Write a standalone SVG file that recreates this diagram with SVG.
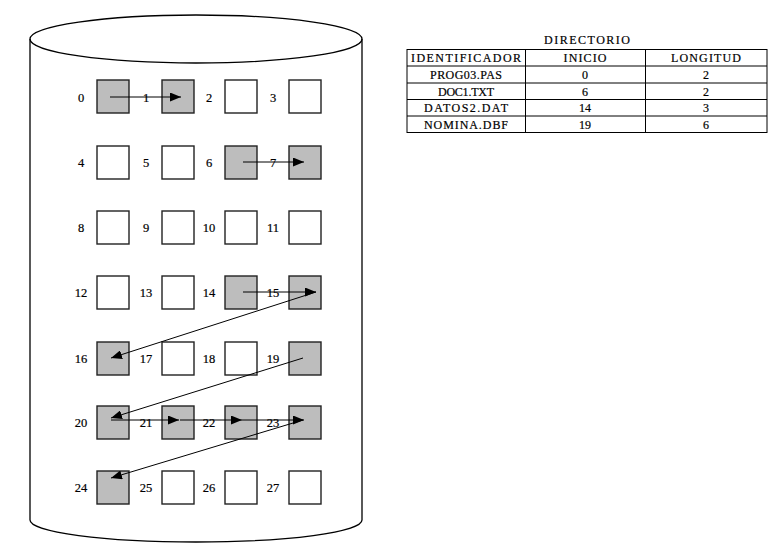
<svg xmlns="http://www.w3.org/2000/svg" width="783" height="553" viewBox="0 0 783 553">
<defs>
<marker id="ah" markerWidth="11" markerHeight="9" refX="11" refY="4.5" orient="auto" markerUnits="userSpaceOnUse">
<path d="M0,0 L11,4.5 L0,9 Z" fill="#000"/>
</marker>
<style>
.cyl{fill:none;stroke:#000;stroke-width:1.3}
.b{fill:#fff;stroke:#222;stroke-width:1.4}
.g{fill:#bdbdbd;stroke:#222;stroke-width:1.4}
.lbl{font-family:"Liberation Serif",serif;font-size:12.5px;fill:#000;text-anchor:middle;stroke:#000;stroke-width:0.2}
.t{font-family:"Liberation Serif",serif;font-size:12px;fill:#000;text-anchor:middle;stroke:#000;stroke-width:0.2}
.c{stroke:#000;stroke-width:1;fill:none;marker-end:url(#ah)}
.tb{fill:none;stroke:#000;stroke-width:1}
</style>
</defs>
<rect width="783" height="553" fill="#fff"/>
<g id="disk">
<ellipse class="cyl" cx="196" cy="39" rx="166" ry="24"/>
<path class="cyl" d="M30,39 L30,520 A166,22 0 0 0 362,520 L362,39"/>
</g>
<g id="blocks">
<g id="b0"><rect class="g" x="97" y="80" width="32" height="33"/><text class="lbl" x="81" y="102">0</text></g>
<g id="b1"><rect class="g" x="162" y="80" width="32" height="33"/><text class="lbl" x="146" y="102">1</text></g>
<g id="b2"><rect class="b" x="225" y="80" width="32" height="33"/><text class="lbl" x="209" y="102">2</text></g>
<g id="b3"><rect class="b" x="289" y="80" width="32" height="33"/><text class="lbl" x="273" y="102">3</text></g>
<g id="b4"><rect class="b" x="97" y="146" width="32" height="33"/><text class="lbl" x="81" y="167">4</text></g>
<g id="b5"><rect class="b" x="162" y="146" width="32" height="33"/><text class="lbl" x="146" y="167">5</text></g>
<g id="b6"><rect class="g" x="225" y="146" width="32" height="33"/><text class="lbl" x="209" y="167">6</text></g>
<g id="b7"><rect class="g" x="289" y="146" width="32" height="33"/><text class="lbl" x="273" y="167">7</text></g>
<g id="b8"><rect class="b" x="97" y="211" width="32" height="33"/><text class="lbl" x="81" y="232">8</text></g>
<g id="b9"><rect class="b" x="162" y="211" width="32" height="33"/><text class="lbl" x="146" y="232">9</text></g>
<g id="b10"><rect class="b" x="225" y="211" width="32" height="33"/><text class="lbl" x="209" y="232">10</text></g>
<g id="b11"><rect class="b" x="289" y="211" width="32" height="33"/><text class="lbl" x="273" y="232">11</text></g>
<g id="b12"><rect class="b" x="97" y="276" width="32" height="33"/><text class="lbl" x="81" y="297">12</text></g>
<g id="b13"><rect class="b" x="162" y="276" width="32" height="33"/><text class="lbl" x="146" y="297">13</text></g>
<g id="b14"><rect class="g" x="225" y="276" width="32" height="33"/><text class="lbl" x="209" y="297">14</text></g>
<g id="b15"><rect class="g" x="289" y="276" width="32" height="33"/><text class="lbl" x="273" y="297">15</text></g>
<g id="b16"><rect class="g" x="97" y="342" width="32" height="33"/><text class="lbl" x="81" y="363">16</text></g>
<g id="b17"><rect class="b" x="162" y="342" width="32" height="33"/><text class="lbl" x="146" y="363">17</text></g>
<g id="b18"><rect class="b" x="225" y="342" width="32" height="33"/><text class="lbl" x="209" y="363">18</text></g>
<g id="b19"><rect class="g" x="289" y="342" width="32" height="33"/><text class="lbl" x="273" y="363">19</text></g>
<g id="b20"><rect class="g" x="97" y="406" width="32" height="33"/><text class="lbl" x="81" y="427">20</text></g>
<g id="b21"><rect class="g" x="162" y="406" width="32" height="33"/><text class="lbl" x="146" y="427">21</text></g>
<g id="b22"><rect class="g" x="225" y="406" width="32" height="33"/><text class="lbl" x="209" y="427">22</text></g>
<g id="b23"><rect class="g" x="289" y="406" width="32" height="33"/><text class="lbl" x="273" y="427">23</text></g>
<g id="b24"><rect class="g" x="97" y="471" width="32" height="33"/><text class="lbl" x="81" y="492">24</text></g>
<g id="b25"><rect class="b" x="162" y="471" width="32" height="33"/><text class="lbl" x="146" y="492">25</text></g>
<g id="b26"><rect class="b" x="225" y="471" width="32" height="33"/><text class="lbl" x="209" y="492">26</text></g>
<g id="b27"><rect class="b" x="289" y="471" width="32" height="33"/><text class="lbl" x="273" y="492">27</text></g>
</g>
<g id="connectors">
<line class="c" x1="110" y1="97" x2="181" y2="97"/>
<line class="c" x1="243" y1="162" x2="304" y2="162"/>
<line class="c" x1="243" y1="292" x2="316" y2="292"/>
<line class="c" x1="316" y1="292" x2="111" y2="358"/>
<line class="c" x1="303" y1="358" x2="111" y2="418"/>
<line class="c" x1="111" y1="420" x2="179" y2="420"/>
<line class="c" x1="180" y1="420" x2="242" y2="420"/>
<line class="c" x1="242" y1="420" x2="304" y2="420"/>
<line class="c" x1="303" y1="420" x2="111" y2="478"/>
</g>
<g id="directorio">
<text class="t" x="587" y="44" textLength="86" lengthAdjust="spacing">DIRECTORIO</text>
<rect class="tb" x="407" y="49.5" width="360" height="83"/>
<line class="tb" x1="525.5" y1="49.5" x2="525.5" y2="132.5"/>
<line class="tb" x1="645.5" y1="49.5" x2="645.5" y2="132.5"/>
<line class="tb" x1="407" y1="66" x2="767" y2="66"/>
<line class="tb" x1="407" y1="83" x2="767" y2="83"/>
<line class="tb" x1="407" y1="99.5" x2="767" y2="99.5"/>
<line class="tb" x1="407" y1="116" x2="767" y2="116"/>
<text class="t" x="466" y="62" textLength="110" lengthAdjust="spacing">IDENTIFICADOR</text>
<text class="t" x="585" y="62" textLength="43" lengthAdjust="spacing">INICIO</text>
<text class="t" x="706" y="62" textLength="70" lengthAdjust="spacing">LONGITUD</text>
<text class="t" x="466" y="79" textLength="72" lengthAdjust="spacing">PROG03.PAS</text>
<text class="t" x="585" y="79">0</text>
<text class="t" x="706" y="79">2</text>
<text class="t" x="466" y="96" textLength="56" lengthAdjust="spacing">DOC1.TXT</text>
<text class="t" x="585" y="96">6</text>
<text class="t" x="706" y="96">2</text>
<text class="t" x="466" y="112" textLength="84" lengthAdjust="spacing">DATOS2.DAT</text>
<text class="t" x="585" y="112">14</text>
<text class="t" x="706" y="112">3</text>
<text class="t" x="466" y="129" textLength="84" lengthAdjust="spacing">NOMINA.DBF</text>
<text class="t" x="585" y="129">19</text>
<text class="t" x="706" y="129">6</text>
</g>
</svg>
